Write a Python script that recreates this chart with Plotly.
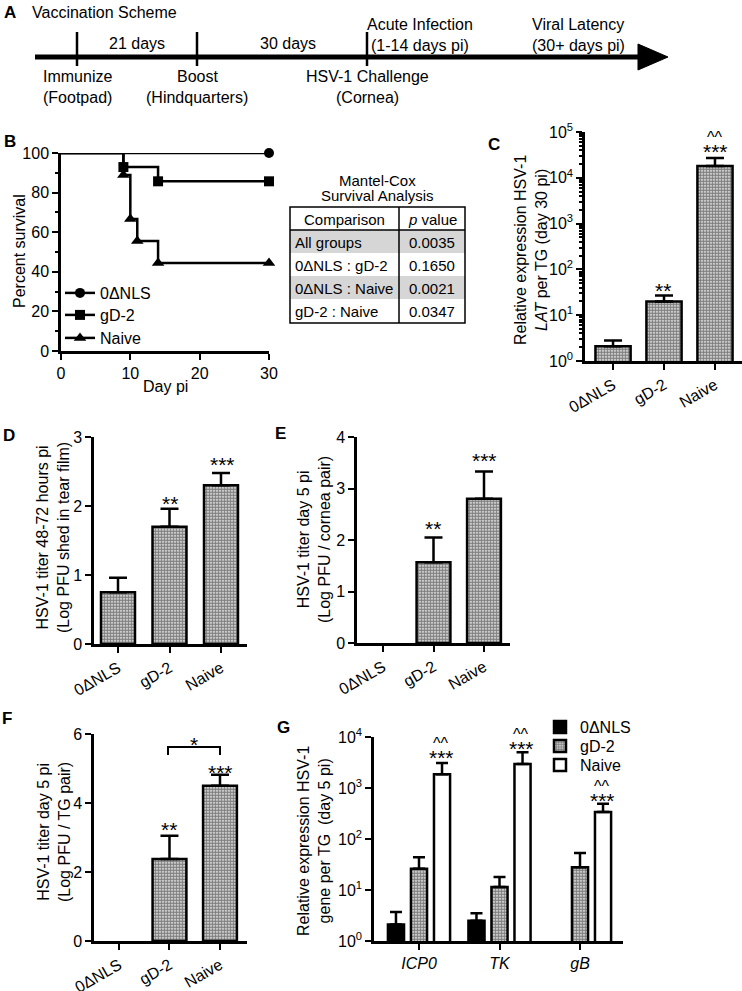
import plotly.graph_objects as go

W, H = 742, 991
FONT = "Liberation Sans, Arial, sans-serif"

# ---------------- data ----------------
groups = ["0ΔNLS", "gD-2", "Naive"]

# B: Kaplan-Meier survival (day pi, percent survival)
surv_days_0dnls = [0, 30]
surv_pct_0dnls = [100, 100]
surv_days_gd2 = [0, 9, 14, 30]
surv_pct_gd2 = [100, 92.9, 85.7, 85.7]
surv_days_naive = [0, 9, 10, 11, 14, 30]
surv_pct_naive = [100, 88.9, 66.7, 55.6, 44.4, 44.4]

table_comparisons = ["All groups", "0ΔNLS : gD-2", "0ΔNLS : Naive", "gD-2 : Naive"]
table_pvalues = ["0.0035", "0.1650", "0.0021", "0.0347"]

# C: LAT expression (day 30 pi)
lat_mean = [2.1, 20, 18000]
lat_upper = [2.8, 27, 27000]

# D: tear film titer
tear_mean = [0.75, 1.70, 2.30]
tear_upper = [0.96, 1.96, 2.48]
# E: cornea titer
cornea_mean = [None, 1.57, 2.80]
cornea_upper = [None, 2.05, 3.33]
# F: TG titer
tg_mean = [None, 2.38, 4.50]
tg_upper = [None, 3.05, 4.82]

# G: gene expression day 5
genes = ["ICP0", "TK", "gB"]
g_0dnls_mean = [2.1, 2.5, None]
g_0dnls_upper = [3.7, 3.5, None]
g_gd2_mean = [26, 11.5, 28]
g_gd2_upper = [44, 18, 53]
g_naive_mean = [1870, 2950, 340]
g_naive_upper = [3100, 5000, 490]


def px(x):
    return x / W


def py(y):
    return 1 - y / H


def err(mean, upper):
    return [None if (m is None or u is None) else u - m for m, u in zip(mean, upper)]


fig = go.Figure()

checker = dict(shape=".", fgcolor="black", bgcolor="white", size=3, solidity=0.75)
outline = dict(color="black", width=2.5)

# ---------- B survival ----------
for days, pct, sym, name, sz, lg in [
    (surv_days_0dnls, surv_pct_0dnls, "circle", "0ΔNLS", 10, "legend"),
    (surv_days_gd2, surv_pct_gd2, "square", "gD-2", 10, "legend3"),
    (surv_days_naive, surv_pct_naive, "triangle-up", "Naive", 11, "legend4"),
]:
    fig.add_trace(go.Scatter(
        x=days, y=pct, mode="lines+markers", line=dict(shape="hv", color="black", width=2.5),
        marker=dict(symbol=sym, size=sz, color="black"),
        selectedpoints=list(range(1, len(days))),
        selected=dict(marker=dict(opacity=1)), unselected=dict(marker=dict(opacity=0)),
        name=name, xaxis="x", yaxis="y", cliponaxis=False, legend=lg))


def bar(x, mean, upper, axis, width, marker, capw=9, offset=None, name=None, legend=None, showlegend=False):
    return go.Bar(
        x=x, y=mean, width=width, offset=offset, marker=marker,
        error_y=dict(type="data", symmetric=False, array=err(mean, upper),
                     arrayminus=[0] * len(mean), color="black", thickness=2.5, width=capw),
        xaxis="x" + axis, yaxis="y" + axis, showlegend=showlegend, name=name,
        legend=legend, cliponaxis=False)


idx = [0, 1, 2]
fig.add_trace(bar(idx, lat_mean, lat_upper, "2", 0.69, dict(color="white", line=outline, pattern=checker)))
fig.add_trace(bar(idx, tear_mean, tear_upper, "3", 0.66, dict(color="white", line=outline, pattern=checker)))
fig.add_trace(bar(idx, cornea_mean, cornea_upper, "4", 0.67, dict(color="white", line=outline, pattern=checker)))
fig.add_trace(bar(idx, tg_mean, tg_upper, "5", 0.67, dict(color="white", line=outline, pattern=checker)))

gw = 0.2
fig.add_trace(bar(idx, g_0dnls_mean, g_0dnls_upper, "6", gw, dict(color="black", line=outline),
                  capw=6, offset=-0.386, name="0ΔNLS", legend="legend2", showlegend=True))
fig.add_trace(bar(idx, g_gd2_mean, g_gd2_upper, "6", gw, dict(color="white", line=outline, pattern=checker),
                  capw=6, offset=-0.1, name="gD-2", legend="legend5", showlegend=True))
fig.add_trace(bar(idx, g_naive_mean, g_naive_upper, "6", gw, dict(color="white", line=outline),
                  capw=6, offset=0.186, name="Naive", legend="legend6", showlegend=True))

axis_common = dict(showline=True, linewidth=2.5, linecolor="black", ticks="outside", ticklen=6,
                   tickwidth=2, tickcolor="black", showgrid=False, zeroline=False, automargin=False,
                   tickfont=dict(family=FONT, size=16, color="black"), fixedrange=True)

layout_axes = {}
# B
layout_axes["xaxis"] = dict(axis_common, domain=[px(61), px(269)], range=[0, 30], tickvals=[0, 10, 20, 30], anchor="y")
layout_axes["yaxis"] = dict(axis_common, domain=[py(351), py(153)], range=[0, 100],
                            tickvals=[0, 20, 40, 60, 80, 100], anchor="x",
                            minor=dict(dtick=10, ticks="outside", ticklen=3, tickwidth=2, tickcolor="black"))
# C
log_minor_c = [m * 10 ** e for e in range(0, 5) for m in range(2, 10)]
layout_axes["xaxis2"] = dict(axis_common, domain=[px(585), px(742)], range=[-0.55, 2.53],
                             tickvals=idx, ticktext=groups, tickangle=-30, anchor="y2")
layout_axes["yaxis2"] = dict(axis_common, domain=[py(361), py(132)], type="log", range=[0, 5],
                             tickvals=[1, 10, 100, 1000, 10000, 100000],
                             ticktext=["10<sup>%d</sup>" % e for e in range(6)], anchor="x2",
                             minor=dict(tickvals=log_minor_c, ticks="outside", ticklen=3, tickwidth=1.5, tickcolor="black"))
# D
layout_axes["xaxis3"] = dict(axis_common, domain=[px(94), px(247)], range=[-0.466, 2.505],
                             tickvals=idx, ticktext=groups, tickangle=-30, anchor="y3")
layout_axes["yaxis3"] = dict(axis_common, domain=[py(644), py(437)], range=[0, 3], tickvals=[0, 1, 2, 3], anchor="x3")
# E
layout_axes["xaxis4"] = dict(axis_common, domain=[px(357), px(510)], range=[-0.515, 2.515],
                             tickvals=idx, ticktext=groups, tickangle=-30, anchor="y4")
layout_axes["yaxis4"] = dict(axis_common, domain=[py(643), py(437)], range=[0, 4], tickvals=[0, 1, 2, 3, 4], anchor="x4")
# F
layout_axes["xaxis5"] = dict(axis_common, domain=[px(94), px(247)], range=[-0.495, 2.535],
                             tickvals=idx, ticktext=groups, tickangle=-30, anchor="y5")
layout_axes["yaxis5"] = dict(axis_common, domain=[py(941), py(734)], range=[0, 6], tickvals=[0, 2, 4, 6], anchor="x5")
# G
layout_axes["xaxis6"] = dict(axis_common, domain=[px(374), px(623)], range=[-0.559, 2.534],
                             tickvals=idx, ticktext=["<i>%s</i>" % g for g in genes], anchor="y6")
layout_axes["yaxis6"] = dict(axis_common, domain=[py(941), py(737)], type="log", range=[0, 4],
                             tickvals=[1, 10, 100, 1000, 10000],
                             ticktext=["10<sup>%d</sup>" % e for e in range(5)], anchor="x6")

ann = []


def text(t, x, y, size=15, xanchor="center", yanchor="middle", bold=False, angle=0):
    if bold:
        t = "<b>%s</b>" % t
    ann.append(dict(text=t, x=px(x), y=py(y), xref="paper", yref="paper", showarrow=False,
                    xanchor=xanchor, yanchor=yanchor, textangle=angle,
                    font=dict(family=FONT, size=size, color="black")))


# panel letters
for L, x, y in [("A", 10, 12), ("B", 10, 141), ("C", 494, 144), ("D", 9, 435), ("E", 280, 433),
                ("F", 7, 718), ("G", 283, 727)]:
    text(L, x, y, size=17, bold=True)

# Panel A timeline
text("Vaccination Scheme", 30, 12, size=16, xanchor="left")
text("21 days", 137, 43, size=16)
text("30 days", 288, 43, size=16)
text("Acute Infection", 420, 25, size=16)
text("(1-14 days pi)", 420, 45, size=16)
text("Viral Latency", 578, 25, size=16)
text("(30+ days pi)", 578, 45, size=16)
text("Immunize", 77, 77, size=16)
text("(Footpad)", 77, 97, size=16)
text("Boost", 197, 77, size=16)
text("(Hindquarters)", 197, 97, size=16)
text("HSV-1 Challenge", 367, 77, size=16)
text("(Cornea)", 367, 97, size=16)

shapes = []
shapes.append(dict(type="line", xref="paper", yref="paper", x0=px(35), x1=px(642), y0=py(57), y1=py(57),
                   line=dict(color="black", width=5)))
shapes.append(dict(type="path", xref="paper", yref="paper",
                   path="M %f %f L %f %f L %f %f Z" % (px(638), py(44), px(668), py(57), px(638), py(70)),
                   fillcolor="black", line=dict(color="black", width=1)))
for tx in [77, 197, 367]:
    shapes.append(dict(type="line", xref="paper", yref="paper", x0=px(tx), x1=px(tx), y0=py(32), y1=py(66),
                       line=dict(color="black", width=2.5)))

# Panel B texts
text("Percent survival", 19, 251, size=16, angle=-90)
text("Day pi", 165, 386, size=16)

# Table
text("Mantel-Cox", 377, 181)
text("Survival Analysis", 377, 196)
tx0, tx1, txm = 290, 465, 399
row_edges = [207, 230, 253, 276, 299, 323]
for i in [1, 3]:
    shapes.append(dict(type="rect", xref="paper", yref="paper", x0=px(tx0), x1=px(tx1),
                       y0=py(row_edges[i]), y1=py(row_edges[i + 1]), fillcolor="#d6d6d6", line=dict(width=0), layer="below"))
shapes.append(dict(type="rect", xref="paper", yref="paper", x0=px(tx0), x1=px(tx1), y0=py(row_edges[0]), y1=py(row_edges[-1]),
                   line=dict(color="black", width=1.5)))
shapes.append(dict(type="line", xref="paper", yref="paper", x0=px(tx0), x1=px(tx1), y0=py(row_edges[1]), y1=py(row_edges[1]),
                   line=dict(color="black", width=1.5)))
shapes.append(dict(type="line", xref="paper", yref="paper", x0=px(txm), x1=px(txm), y0=py(row_edges[0]), y1=py(row_edges[-1]),
                   line=dict(color="black", width=1.5)))
text("Comparison", (tx0 + txm) / 2, 219)
text("<i>p</i> value", (txm + tx1) / 2, 219)
for i, (c, p) in enumerate(zip(table_comparisons, table_pvalues)):
    yc = (row_edges[i + 1] + row_edges[i + 2]) / 2 + 1
    text(c, tx0 + 3, yc, xanchor="left")
    text(p, (txm + tx1) / 2, yc)

# Y titles
text("Relative expression HSV-1<br><i>LAT</i> per TG (day 30 pi)", 531, 250, size=16, angle=-90)
text("HSV-1 titer 48-72 hours pi<br>(Log PFU shed in tear film)", 53, 538, size=16, angle=-90)
text("HSV-1 titer day 5 pi<br>(Log PFU / cornea pair)", 314, 540, size=16, angle=-90)
text("HSV-1 titer day 5 pi<br>(Log PFU / TG pair)", 54, 832, size=16, angle=-90)
text("Relative expression HSV-1<br>gene per TG  (day 5 pi)", 314, 841, size=16, angle=-90)

# significance markers (glyph centre pixel positions)
STAR = 21
CARET = 16


def star(t, x, y):
    text(t, x, y + 5, size=STAR)


def caret(x, y):
    text("^^", x, y + 3, size=CARET)


star("**", 663, 285); star("***", 715, 147); caret(715, 134)
star("**", 170, 498); star("***", 222, 460)
star("**", 433, 523); star("***", 484, 456)
star("**", 169, 824); star("***", 220, 767); star("*", 194, 739)
shapes.append(dict(type="path", xref="paper", yref="paper",
                   path="M %f %f L %f %f L %f %f L %f %f" % (px(168), py(755), px(168), py(747), px(220), py(747), px(220), py(755)),
                   line=dict(color="black", width=2)))
caret(441, 740); star("***", 441, 752)
caret(521, 731); star("***", 521, 743)
caret(602, 783); star("***", 602, 795)


def legend_at(x, y):
    return dict(x=px(x), y=py(y), xanchor="left", yanchor="middle", bgcolor="rgba(0,0,0,0)",
                font=dict(family=FONT, size=16), tracegroupgap=0, itemclick=False, itemdoubleclick=False)


fig.update_layout(
    width=W, height=H, margin=dict(l=0, r=0, t=0, b=0, autoexpand=False),
    paper_bgcolor="white", plot_bgcolor="white",
    barmode="overlay",
    font=dict(family=FONT, size=15, color="black"),
    legend=legend_at(60, 293), legend3=legend_at(60, 315), legend4=legend_at(60, 338),
    legend2=legend_at(540, 727), legend5=legend_at(540, 746), legend6=legend_at(540, 765),
    annotations=ann, shapes=shapes,
    **layout_axes,
)

fig.write_html("out.html", config={"displayModeBar": False},
               post_script="document.body.style.margin='0';document.body.style.overflow='hidden';")
